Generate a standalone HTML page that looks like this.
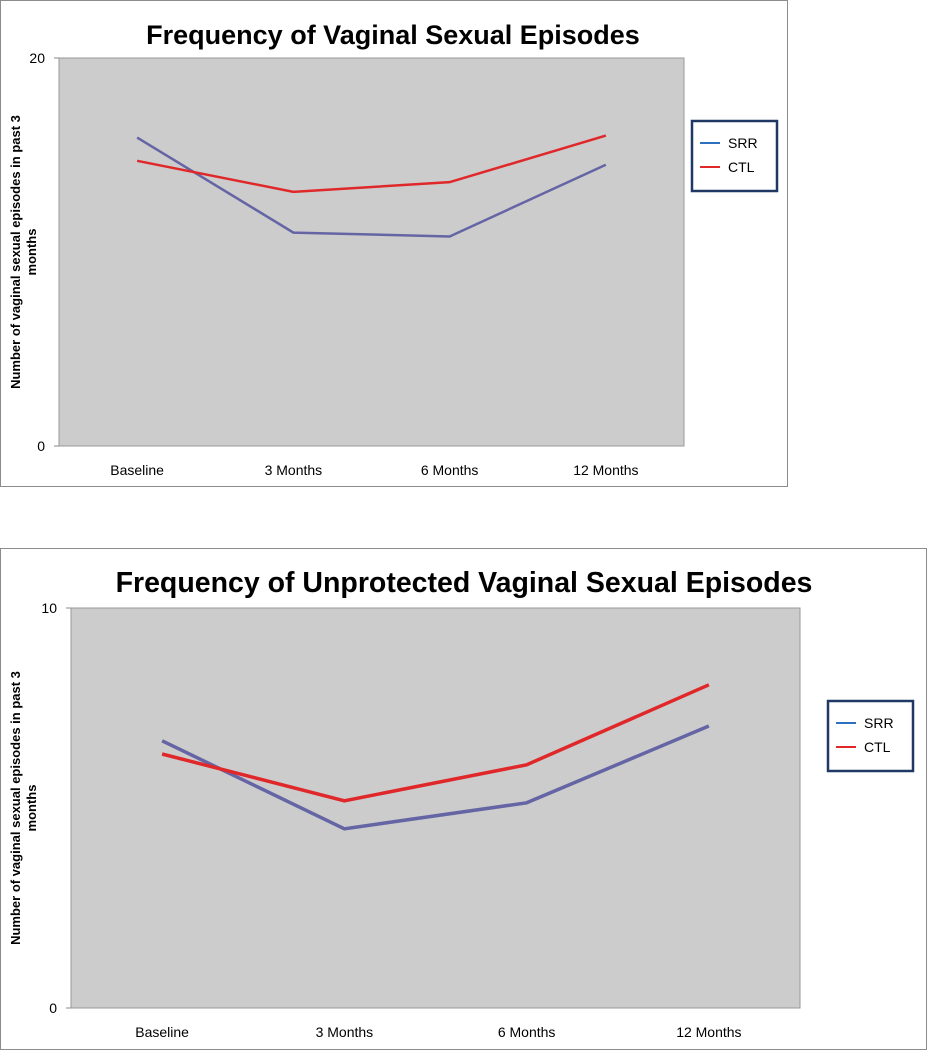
<!DOCTYPE html>
<html><head><meta charset="utf-8"><style>
body{margin:0;background:#fff;width:928px;height:1050px;overflow:hidden;font-family:"Liberation Sans",sans-serif}
svg{position:absolute;left:0;top:0}
</style></head><body>
<svg id="s" width="928" height="1050"></svg>
<script>
const categories=["Baseline","3 Months","6 Months","12 Months"];
const srr1=[15.9,11.0,10.8,14.5];
const ctl1=[14.7,13.1,13.6,16.0];
const srr2=[6.68,4.48,5.13,7.05];
const ctl2=[6.35,5.18,6.08,8.08];
const yTicks1=[0,20];
const yTicks2=[0,10];
const titles=["Frequency of Vaginal Sexual Episodes","Frequency of Unprotected Vaginal Sexual Episodes"];
const seriesNames=["SRR","CTL"];
const NS="http://www.w3.org/2000/svg";
const svg=document.getElementById('s');
function mk(t,a,p){const e=document.createElementNS(NS,t);for(const k in a)e.setAttribute(k,a[k]);(p||svg).appendChild(e);return e;}
function chart(cfg,srr,ctl,ticks,title,idx){
  const g=mk('g',{});
  
  
  const fr=mk('rect',{x:cfg.ox+0.5,y:cfg.oy+0.5,width:cfg.ow,height:cfg.oh,fill:'#fff',stroke:'#8c8c8c'},g);
  
  const pl=mk('rect',{x:cfg.px,y:cfg.py,width:cfg.pw,height:cfg.ph,fill:'#cccccc',stroke:'#9a9a9a'},g);
  
  const ymax=ticks[ticks.length-1];
  const ys=v=>cfg.py+cfg.ph-v/ymax*cfg.ph;
  const bw=cfg.pw/categories.length;
  const xs=i=>cfg.px+bw*(i+0.5);
  const t=mk('text',{x:cfg.ox+cfg.tx,y:cfg.oy+44,'text-anchor':'middle','font-size':cfg.tf,'font-weight':'bold',fill:'#000'},g);
  t.textContent=title;
  ticks.forEach(v=>{
    mk('line',{x1:cfg.px-5,x2:cfg.px,y1:ys(v),y2:ys(v),stroke:'#888'},g);
    const l=mk('text',{x:cfg.px-14,y:ys(v)+5,'text-anchor':'end','font-size':14,fill:'#000'},g);
    l.textContent=v;
  });
  categories.forEach((c,i)=>{
    const l=mk('text',{x:xs(i),y:cfg.py+cfg.ph+29,'text-anchor':'middle','font-size':14,fill:'#000'},g);
    l.textContent=c;
  });
  const yt=mk('text',{transform:`translate(${cfg.ox+20},${cfg.py+cfg.ph/2}) rotate(-90)`,'text-anchor':'middle','font-size':13,'font-weight':'bold',fill:'#000'},g);
  
  const a=mk('tspan',{x:0,dy:0},yt);a.textContent='Number of vaginal sexual episodes in past 3';
  const b=mk('tspan',{x:0,dy:16},yt);b.textContent='months';
  const p1=mk('polyline',{points:srr.map((v,i)=>xs(i)+','+ys(v)).join(' '),fill:'none',stroke:'#6565a5','stroke-width':cfg.sw},g);
  
  const p2=mk('polyline',{points:ctl.map((v,i)=>xs(i)+','+ys(v)).join(' '),fill:'none',stroke:'#e0282a','stroke-width':cfg.sw},g);
  
  const lg=mk('g',{},g);
  mk('rect',{x:cfg.lx,y:cfg.ly,width:85,height:70,fill:'#fff',stroke:'#1f3864','stroke-width':2.5},lg);
  const cols=['#2f6fbf','#e0282a'];
  seriesNames.forEach((n,i)=>{
    const y=cfg.ly+22+i*24;
    mk('line',{x1:cfg.lx+8,x2:cfg.lx+28,y1:y,y2:y,stroke:cols[i],'stroke-width':2},lg);
    const tx=mk('text',{x:cfg.lx+36,y:y+5,'font-size':14,fill:'#000'},lg);
    tx.textContent=n;
  });
}
chart({ox:0,oy:0,ow:787,oh:486,px:59,py:58,pw:625,ph:388,tx:393,lx:692,ly:121,sw:2.5,tf:27},srr1,ctl1,yTicks1,titles[0],0);
chart({ox:0,oy:548,ow:926,oh:501,px:71,py:608,pw:729,ph:400,tx:464,lx:828,ly:701,sw:3.5,tf:28.5},srr2,ctl2,yTicks2,titles[1],1);
</script>
</body></html>
